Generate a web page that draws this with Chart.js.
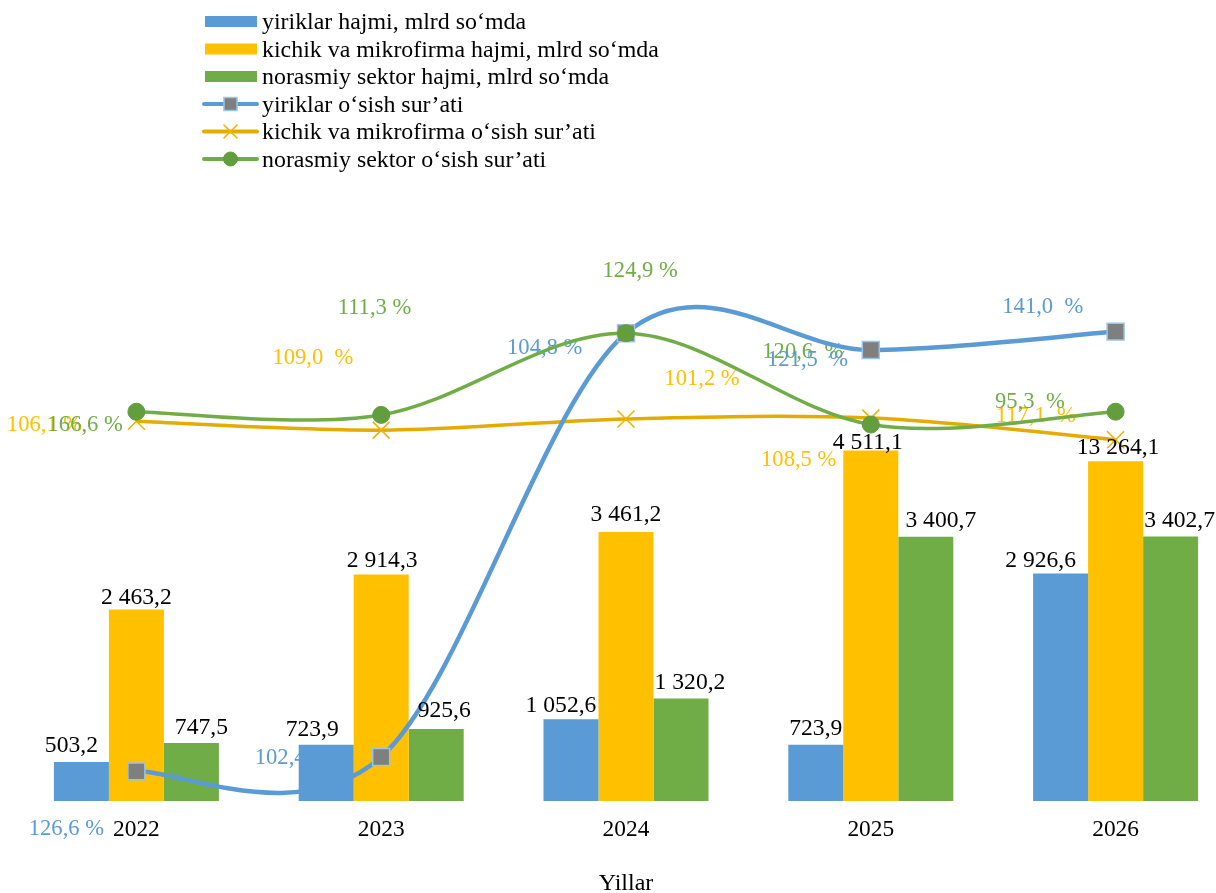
<!DOCTYPE html>
<html><head><meta charset="utf-8">
<script src="https://cdn.jsdelivr.net/npm/chart.js@4/dist/chart.umd.min.js"></script>
<style>
html,body{margin:0;padding:0;background:#fff;overflow:hidden;width:1216px;height:893px;}
#wrap{position:absolute;left:0;top:0;width:1238px;height:893px;}
</style></head><body>
<div id="wrap"><canvas id="c" width="1238" height="893"></canvas></div>
<script>
// ---------- data ----------
const years = ['2022', '2023', '2024', '2025', '2026'];
const axisTitle = 'Yillar';
const seriesNames = [
  'yiriklar hajmi, mlrd so\u2018mda',
  'kichik va mikrofirma hajmi, mlrd so\u2018mda',
  'norasmiy sektor hajmi, mlrd so\u2018mda',
  'yiriklar o\u2018sish sur\u2019ati',
  'kichik va mikrofirma o\u2018sish sur\u2019ati',
  'norasmiy sektor o\u2018sish sur\u2019ati'
];
// bar heights (mlrd so'm) as drawn
const largeVolume    = [503.2, 723.9, 1052.6, 723.9, 2926.6];
const smallVolume    = [2463.2, 2914.3, 3461.2, 4511.1, 4373];
const informalVolume = [747.5, 925.6, 1320.2, 3400.7, 3402.7];
// bar value labels as printed
const largeVolumeLabels    = ['503,2', '723,9', '1 052,6', '723,9', '2 926,6'];
const smallVolumeLabels    = ['2 463,2', '2 914,3', '3 461,2', '4 511,1', '13 264,1'];
const informalVolumeLabels = ['747,5', '925,6', '1 320,2', '3 400,7', '3 402,7'];
// growth-rate lines: plotted positions on the secondary axis (0-100)
const largeRate    = [3.7, 5.5, 58.4, 56.3, 58.6];
const smallRate    = [47.4, 46.3, 47.7, 47.8, 45.1];
const informalRate = [48.6, 48.2, 58.4, 47.0, 48.6];
// growth-rate labels as printed
const largeRateLabels    = ['126,6 %', '102,4 %', '104,8 %', '121,5\u00a0 %', '141,0\u00a0 %'];
const smallRateLabels    = ['106,1 %', '109,0\u00a0 %', '101,2 %', '108,5 %', '117,1\u00a0 %'];
const informalRateLabels = ['166,6 %', '111,3 %', '124,9 %', '120,6\u00a0 %', '95,3\u00a0 %'];

// ---------- styles / label placement ----------
const BLUE = '#5B9BD5', GOLD = '#FFC000', GREEN = '#70AD47';
const FONT = "'Liberation Serif','Times New Roman',serif";
Chart.defaults.font.family = FONT;

const barLabelShift = [
  {dx: [-10, -14, -10, 0, -20], gap: [10, 9, 7.5, 10, 6.6]},
  {dx: [0, 1, 0, -3, 2.5],      gap: [6, 8, 11, 1, 7.7]},
  {dx: [10, 8, 9, 15, 9],       gap: [8.7, 12, 9, 10, 10]}
];
const lineLabelShift = {
  3: {dx: [-70, -88.8, -81.3, -63.3, -72.8], dy: [57.5, 1.3, 14.7, 10, -24.8]},
  4: {dx: [-91.9, -68.3, 76, -72.1, -79.8],  dy: [4, -71.7, -40, 42, -23.3]},
  5: {dx: [-51.2, -6.7, 14.2, -68, -85.7],   dy: [13, -106.7, -62, -72.6, -10]}
};
const barLabelArrays = [largeVolumeLabels, smallVolumeLabels, informalVolumeLabels];
const lineLabelArrays = {3: largeRateLabels, 4: smallRateLabels, 5: informalRateLabels};
const labelColors = {3: BLUE, 4: GOLD, 5: GREEN};

// Excel-like smoothing (uniform Catmull-Rom control points) for line datasets
const smoothPlugin = {
  id: 'excelSmooth',
  beforeDatasetsDraw(chart) {
    [3, 4, 5].forEach(i => {
      const meta = chart.getDatasetMeta(i);
      if (!meta.dataset || typeof meta.dataset.updateControlPoints !== 'function') return;
      meta.dataset.updateControlPoints(chart.chartArea, meta.iScale.axis);
      const pts = meta.data;
      for (let k = 0; k < pts.length; k++) {
        const p = pts[k], prev = pts[k - 1] || p, next = pts[k + 1] || p;
        const dx = (next.x - prev.x) / 6, dy = (next.y - prev.y) / 6;
        p.cp1x = p.x - dx; p.cp1y = p.y - dy;
        p.cp2x = p.x + dx; p.cp2y = p.y + dy;
      }
      meta.dataset._path = undefined;
    });
  }
};

const lineLabelsPlugin = {
  id: 'lineLabels',
  beforeDatasetsDraw(chart) {
    const ctx = chart.ctx;
    ctx.save();
    ctx.font = '22.6px ' + FONT;
    ctx.textAlign = 'center';
    ctx.textBaseline = 'middle';
    [4, 5, 3].forEach(ds => {
      const meta = chart.getDatasetMeta(ds);
      ctx.fillStyle = labelColors[ds];
      meta.data.forEach((pt, j) => {
        const s = lineLabelShift[ds];
        ctx.fillText(lineLabelArrays[ds][j], pt.x + s.dx[j], pt.y + s.dy[j]);
      });
    });
    ctx.restore();
  }
};

const barLabelsPlugin = {
  id: 'barLabels',
  afterDatasetsDraw(chart) {
    const ctx = chart.ctx;
    ctx.save();
    ctx.font = '23.6px ' + FONT;
    ctx.textAlign = 'center';
    ctx.textBaseline = 'alphabetic';
    ctx.fillStyle = '#000';
    [0, 1, 2].forEach(ds => {
      const meta = chart.getDatasetMeta(ds);
      meta.data.forEach((bar, j) => {
        const s = barLabelShift[ds];
        ctx.fillText(barLabelArrays[ds][j], bar.x + s.dx[j], bar.y - s.gap[j]);
      });
    });
    ctx.restore();
  }
};

function drawMarker(ctx, style, x, y, size, fill, stroke, lw) {
  ctx.save();
  ctx.lineWidth = lw;
  ctx.strokeStyle = stroke;
  ctx.fillStyle = fill;
  const h = size / 2;
  if (style === 'rect') {
    ctx.fillRect(x - h, y - h, size, size);
    ctx.strokeRect(x - h, y - h, size, size);
  } else if (style === 'circle') {
    ctx.beginPath(); ctx.arc(x, y, h, 0, Math.PI * 2); ctx.fill(); ctx.stroke();
  } else if (style === 'crossRot') {
    ctx.beginPath();
    ctx.moveTo(x - h, y - h); ctx.lineTo(x + h, y + h);
    ctx.moveTo(x + h, y - h); ctx.lineTo(x - h, y + h);
    ctx.stroke();
  }
  ctx.restore();
}

const legendPlugin = {
  id: 'customLegend',
  afterDraw(chart) {
    const ctx = chart.ctx;
    ctx.save();
    ctx.font = '23.9px ' + FONT;
    ctx.textAlign = 'left';
    ctx.textBaseline = 'alphabetic';
    chart.data.datasets.forEach((ds, i) => {
      const base = 29.3 + 27.5 * i;
      const cy = base - 7.8;
      if (ds.type === 'bar') {
        ctx.fillStyle = ds.backgroundColor;
        ctx.fillRect(205, cy - 5.5, 52, 11);
      } else {
        ctx.strokeStyle = ds.borderColor;
        ctx.lineWidth = 4;
        ctx.lineCap = 'round';
        ctx.beginPath(); ctx.moveTo(204, cy); ctx.lineTo(257, cy); ctx.stroke();
        drawMarker(ctx, ds.pointStyle, 230.5, cy, ds.pointStyle === 'circle' ? 14 : 13,
          ds.pointBackgroundColor, ds.pointBorderColor, ds.pointBorderWidth);
      }
      ctx.fillStyle = '#000';
      ctx.fillText(ds.label, 262, base);
    });
    ctx.restore();
  }
};

new Chart(document.getElementById('c'), {
  data: {
    labels: years,
    datasets: [
      {type: 'bar', label: seriesNames[0], data: largeVolume, backgroundColor: BLUE, yAxisID: 'y', order: 10},
      {type: 'bar', label: seriesNames[1], data: smallVolume, backgroundColor: GOLD, yAxisID: 'y', order: 11},
      {type: 'bar', label: seriesNames[2], data: informalVolume, backgroundColor: GREEN, yAxisID: 'y', order: 12},
      {type: 'line', label: seriesNames[3], data: largeRate, yAxisID: 'y2', order: 1,
        borderColor: BLUE, borderWidth: 4.5, tension: 0.4, fill: false,
        pointStyle: 'rect', pointRadius: 12, pointBackgroundColor: '#7F7F7F',
        pointBorderColor: '#9DC3E6', pointBorderWidth: 1.5},
      {type: 'line', label: seriesNames[4], data: smallRate, yAxisID: 'y2', order: 2,
        borderColor: '#E5AB00', borderWidth: 3.5, tension: 0.4, fill: false,
        pointStyle: 'crossRot', pointRadius: 12, pointBackgroundColor: '#F2B000',
        pointBorderColor: '#F2B000', pointBorderWidth: 1.5},
      {type: 'line', label: seriesNames[5], data: informalRate, yAxisID: 'y2', order: 0,
        borderColor: GREEN, borderWidth: 3.5, tension: 0.4, fill: false,
        pointStyle: 'circle', pointRadius: 8.5, pointBackgroundColor: '#629D3E',
        pointBorderColor: '#629D3E', pointBorderWidth: 1}
    ]
  },
  options: {
    responsive: false,
    animation: false,
    devicePixelRatio: 1,
    layout: {autoPadding: false, padding: {left: 14, right: 0, top: 0, bottom: 0}},
    datasets: {bar: {categoryPercentage: 0.674, barPercentage: 1}},
    plugins: {legend: {display: false}, tooltip: {enabled: false}},
    scales: {
      x: {
        offset: true,
        grid: {display: false, drawTicks: false},
        border: {display: false},
        ticks: {color: '#000', padding: 17, font: {size: 23.4, lineHeight: 1}},
        title: {display: true, text: axisTitle, color: '#000', padding: 0,
                font: {size: 24, lineHeight: 18 / 24}},
        afterFit(scale) { scale.height = 92; }
      },
      y: {display: false, min: 0, max: 10309},
      y2: {display: false, min: 0, max: 100}
    }
  },
  plugins: [smoothPlugin, lineLabelsPlugin, barLabelsPlugin, legendPlugin]
});
</script>
</body></html>
